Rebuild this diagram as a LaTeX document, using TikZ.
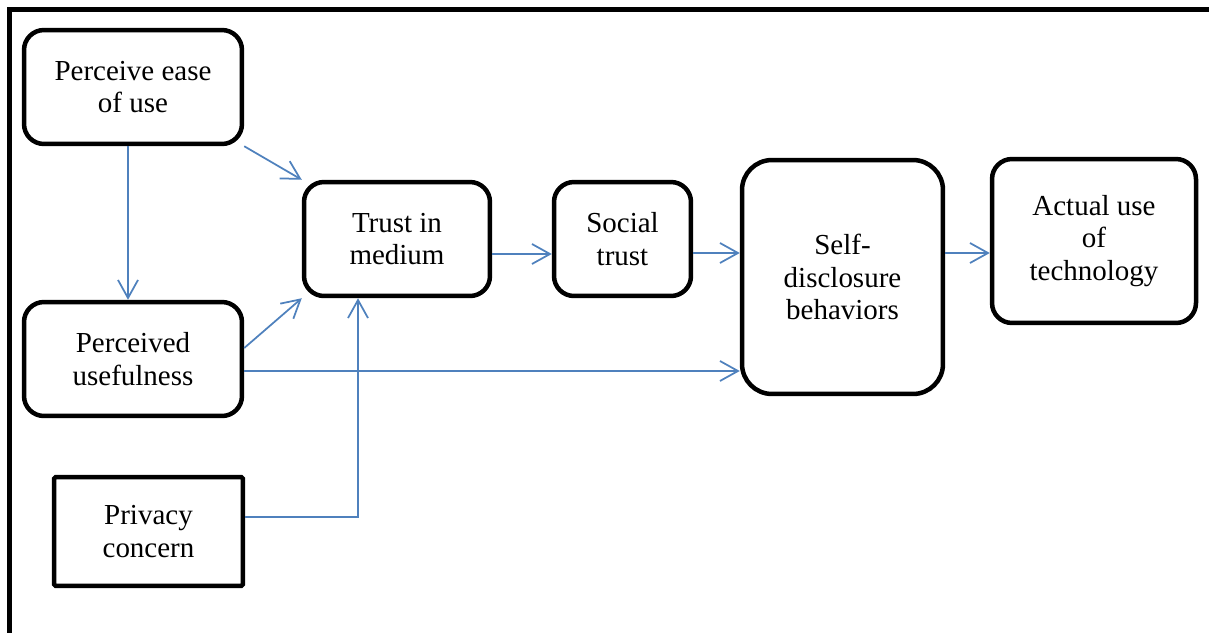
\documentclass[tikz,border=0pt]{standalone}
\usepackage{fontspec}
\setmainfont{Liberation Serif}
\usetikzlibrary{arrows.meta}
\definecolor{linkblue}{RGB}{79,129,189}

\begin{document}
\begin{tikzpicture}[x=0.02cm, y=-0.02cm,
    box/.style={draw, line width=0.09cm, rounded corners=0.4cm, align=center,
      inner sep=0pt, font=\fontsize{16.5}{18.7}\selectfont},
    >={Straight Barb[length=3.6mm,width=4mm]}]
      \useasboundingbox (0,0) rectangle (1209,632);
      \draw[line width=0.09cm] (9.5,640) -- (9.5,9.5) -- (1220,9.5);
      \draw
        (133,87) node[box, minimum width=4.36cm, minimum height=2.28cm] (ease){Perceive ease\\of use}
        (133,359) node[box, minimum width=4.36cm, minimum height=2.28cm] (useful){Perceived\\usefulness}
        (148.5,531.5) node[box, rounded corners=1pt, minimum width=3.78cm, minimum height=2.18cm] (privacy){Privacy\\concern}
        (397,239) node[box, minimum width=3.72cm, minimum height=2.28cm] (trust){Trust in\\medium}
        (622.5,239) node[box, minimum width=2.74cm, minimum height=2.28cm] (social){Social\\trust}
        (842.5,277) node[box, rounded corners=0.6cm, minimum width=4.02cm, minimum height=4.68cm] (self){Self-\\disclosure\\behaviors}
        (1094,241) node[box, minimum width=4.08cm, minimum height=3.28cm] (actual){Actual use\\of\\technology};
      \begin{scope}[->, linkblue, line width=0.035cm]
        \draw ([xshift=-0.1cm]ease.south) to ([xshift=-0.1cm]useful.north);
        \draw (ease.south east) to (trust.north west);
        \draw ([yshift=0.22cm]useful.east) to (trust.south west);
        \draw ([yshift=-0.24cm]useful.east) to ([yshift=-0.24cm]useful.east -| self.west);
        \draw ([yshift=0.29cm]privacy.east) -| ([xshift=-0.78cm]trust.south);
        \draw ([yshift=-0.3cm]trust.east) to ([yshift=-0.3cm]trust.east -| social.west);
        \draw ([yshift=-0.28cm]social.east) to ([yshift=-0.28cm]social.east -| self.west);
        \draw ([yshift=0.48cm]self.east) to ([yshift=0.48cm]self.east -| actual.west);
      \end{scope}
    \end{tikzpicture}
\end{document}
